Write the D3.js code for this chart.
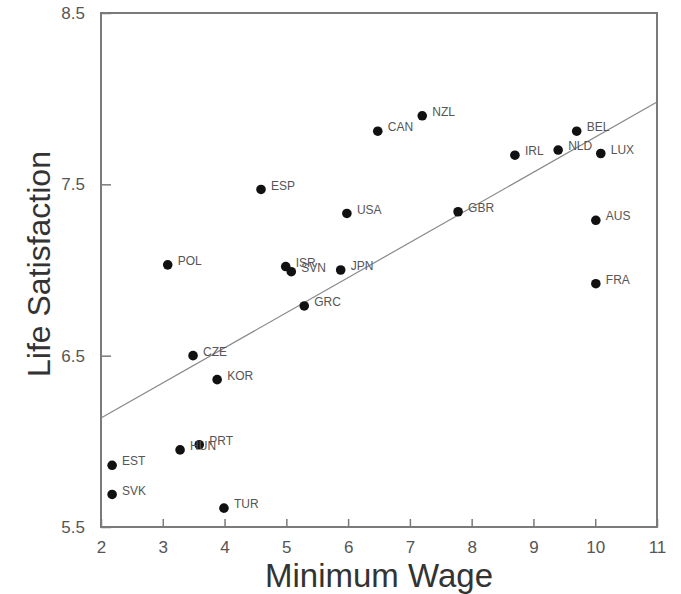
<!DOCTYPE html>
<html>
<head>
<meta charset="utf-8">
<script src="https://cdn.jsdelivr.net/npm/d3@7"></script>
<style>
  html, body { margin: 0; padding: 0; background: #fff; }
  svg { display: block; font-family: Arial, "Liberation Sans", sans-serif; }
</style>
</head>
<body>
<svg id="chart" width="681" height="594"></svg>
<script>
// Country codes, minimum wage and life satisfaction
const countries = ["EST","SVK","TUR","HUN","PRT","CZE","KOR","POL","ESP","ISR","SVN","JPN","GRC","USA","CAN","NZL","GBR","IRL","NLD","BEL","LUX","AUS","FRA"];
const minWage   = [2.18, 2.18, 3.99, 3.28, 3.59, 3.49, 3.88, 3.08, 4.59, 4.99, 5.08, 5.88, 5.29, 5.98, 6.48, 7.20, 7.78, 8.70, 9.40, 9.70, 10.09, 10.01, 10.01];
const lifeSat   = [5.86, 5.69, 5.61, 5.95, 5.98, 6.50, 6.36, 7.03, 7.47, 7.02, 6.99, 7.00, 6.79, 7.33, 7.81, 7.90, 7.34, 7.67, 7.70, 7.81, 7.68, 7.29, 6.92];

// Fitted trend line endpoints
const fitX = [2, 11];
const fitY = [6.136, 7.98];

const xTicks = [2,3,4,5,6,7,8,9,10,11];
const yTicks = [5.5, 6.5, 7.5, 8.5];

const svg = d3.select("#chart");
const plotL = 101, plotR = 657, plotT = 13, plotB = 527;

const x = d3.scaleLinear().domain([2, 11]).range([plotL, plotR]);
const y = d3.scaleLinear().domain([5.5, 8.5]).range([plotB, plotT]);

const axisColor = "#7a7a7a";
const textColor = "#555";

// Plot frame
svg.append("rect")
  .attr("x", plotL).attr("y", plotT)
  .attr("width", plotR - plotL).attr("height", plotB - plotT)
  .attr("fill", "none").attr("stroke", axisColor).attr("stroke-width", 2);

// Axes with inward ticks
const xAxis = d3.axisBottom(x).tickValues(xTicks).tickFormat(d3.format("d"))
  .tickSizeInner(-8).tickSizeOuter(0).tickPadding(14);
const gx = svg.append("g").attr("transform", `translate(0,${plotB})`).call(xAxis);
gx.select(".domain").remove();
gx.selectAll("line").attr("stroke", axisColor).attr("stroke-width", 1.5);
gx.selectAll("text").attr("fill", textColor).attr("font-size", 17)
  .attr("font-family", "Arial, 'Liberation Sans', sans-serif");

const yAxis = d3.axisLeft(y).tickValues(yTicks).tickFormat(d3.format(".1f"))
  .tickSizeInner(-10).tickSizeOuter(0).tickPadding(16);
const gy = svg.append("g").attr("transform", `translate(${plotL},0)`).call(yAxis);
gy.select(".domain").remove();
gy.selectAll("line").attr("stroke", axisColor).attr("stroke-width", 1.5);
gy.selectAll("text").attr("fill", textColor).attr("font-size", 17)
  .attr("font-family", "Arial, 'Liberation Sans', sans-serif");

// Trend line
svg.append("line")
  .attr("x1", x(fitX[0])).attr("y1", y(fitY[0]))
  .attr("x2", x(fitX[1])).attr("y2", y(fitY[1]))
  .attr("stroke", "#888").attr("stroke-width", 1.2);

// Points and country labels
const data = countries.map((c, i) => ({ c, wx: minWage[i], ls: lifeSat[i] }));

svg.append("g").selectAll("circle").data(data).join("circle")
  .attr("cx", d => x(d.wx)).attr("cy", d => y(d.ls))
  .attr("r", 4.8).attr("fill", "#111");

svg.append("g").selectAll("text").data(data).join("text")
  .attr("x", d => x(d.wx) + 10).attr("y", d => y(d.ls) - 3)
  .attr("dominant-baseline", "middle")
  .attr("font-size", 12).attr("fill", "#555")
  .text(d => d.c);

// Axis titles
svg.append("text")
  .attr("x", 379).attr("y", 587)
  .attr("text-anchor", "middle").attr("font-size", 33).attr("fill", "#333")
  .text("Minimum Wage");

svg.append("text")
  .attr("transform", `translate(50,264) rotate(-90)`)
  .attr("text-anchor", "middle").attr("font-size", 32).attr("fill", "#333")
  .text("Life Satisfaction");
</script>
</body>
</html>
